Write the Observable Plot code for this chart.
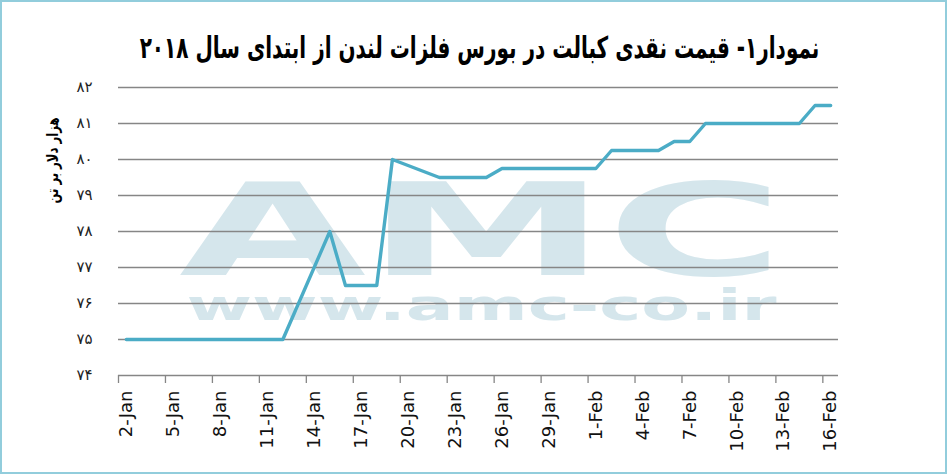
<!DOCTYPE html>
<html>
<head>
<meta charset="utf-8">
<script src="https://cdn.jsdelivr.net/npm/d3@7"></script>
<script src="https://cdn.jsdelivr.net/npm/@observablehq/plot@0.6"></script>
<style>
  body { margin: 0; background: #fff; }
  #chart {
    width: 947px; height: 474px; box-sizing: border-box;
    border: 2px solid #92cddc; background: #fff; overflow: hidden;
  }
  .title {
    height: 62px; box-sizing: border-box; padding: 32px 0 0 12px;
    text-align: center; font: bold 20px "DejaVu Sans", sans-serif; line-height: 28px;
    color: #000; white-space: nowrap;
  }
  .title span { display: inline-block; transform: scaleY(1.5); transform-origin: 50% 55%; }
</style>
</head>
<body>
<div id="chart">
  <div class="title" dir="rtl"><span>نمودار۱- قیمت نقدی کبالت در بورس فلزات لندن از ابتدای سال ۲۰۱۸</span></div>
</div>
<script>
// Cobalt cash price, LME, thousand USD per tonne (trading days)
const dates = [
  "2018-01-02", "2018-01-03", "2018-01-04", "2018-01-05",
  "2018-01-08", "2018-01-09", "2018-01-10", "2018-01-11", "2018-01-12",
  "2018-01-15", "2018-01-16", "2018-01-17", "2018-01-18", "2018-01-19",
  "2018-01-22", "2018-01-23", "2018-01-24", "2018-01-25", "2018-01-26",
  "2018-01-29", "2018-01-30", "2018-01-31", "2018-02-01", "2018-02-02",
  "2018-02-05", "2018-02-06", "2018-02-07", "2018-02-08", "2018-02-09",
  "2018-02-12", "2018-02-13", "2018-02-14", "2018-02-15", "2018-02-16"
];
const prices = [
  75, 75, 75, 75,
  75, 75, 75, 75, 75,
  78, 76.5, 76.5, 76.5, 80,
  79.5, 79.5, 79.5, 79.5, 79.75,
  79.75, 79.75, 79.75, 79.75, 80.25,
  80.25, 80.5, 80.5, 81, 81,
  81, 81, 81, 81.5, 81.5
];

// category axis: one slot per day, tick every 3 days
const tickDays = [
  "2018-01-02", "2018-01-05", "2018-01-08", "2018-01-11", "2018-01-14",
  "2018-01-17", "2018-01-20", "2018-01-23", "2018-01-26", "2018-01-29",
  "2018-02-01", "2018-02-04", "2018-02-07", "2018-02-10", "2018-02-13",
  "2018-02-16"
];
const xStart = "2018-01-02";
const xEnd = "2018-02-17";

const yTicks = [74, 75, 76, 77, 78, 79, 80, 81, 82];
const yTickLabels = ["۷۴", "۷۵", "۷۶", "۷۷", "۷۸", "۷۹", "۸۰", "۸۱", "۸۲"];
const yTitle = "هزار دلار بر تن";

const parse = d3.utcParse("%Y-%m-%d");
const midDay = s => d3.utcHour.offset(parse(s), 12);

const data = dates.map((d, i) => ({date: midDay(d), price: prices[i]}));

const gray = "#868686";
const wmColor = "#d5e6ec";

const plot = Plot.plot({
  width: 943,
  height: 408,
  marginTop: 23,
  marginBottom: 97,
  marginLeft: 116,
  marginRight: 107,
  style: {fontFamily: "DejaVu Sans", background: "white", overflow: "visible"},
  x: {type: "utc", domain: [parse(xStart), parse(xEnd)]},
  y: {domain: [74, 82]},
  marks: [
    // watermark
    Plot.text(["AMC"], {
      frameAnchor: "middle", dx: 3, dy: 3, lineAnchor: "middle",
      fontSize: 128, fontWeight: "bold", fill: wmColor
    }),
    Plot.text(["www.amc-co.ir"], {
      frameAnchor: "middle", dx: 3, dy: 75, lineAnchor: "middle",
      fontSize: 42, fontWeight: "bold", fill: wmColor
    }),
    Plot.gridY(yTicks.slice(1), {stroke: gray, strokeOpacity: 1, strokeWidth: 1.3}),
    Plot.ruleY([74], {stroke: gray, strokeWidth: 1.3}),
    Plot.axisX(tickDays.map(parse), {
      tickSize: 8, stroke: gray, strokeWidth: 1.3, tickFormat: () => "", label: null
    }),
    Plot.axisX(tickDays.map(midDay), {
      tickSize: 0, tickPadding: 15, tickRotate: -90, fontSize: 18, fill: "#111",
      tickFormat: d3.utcFormat("%-d-%b"), label: null
    }),
    Plot.axisY(yTicks, {
      tickSize: 0, tickPadding: 26, fontSize: 15, fill: "#222",
      tickFormat: d => yTickLabels[yTicks.indexOf(d)], label: null
    }),
    Plot.text([yTitle], {
      frameAnchor: "top-left", dx: -72, dy: 73, rotate: -90, textAnchor: "middle",
      fontSize: 16, fontWeight: "bold", fill: "#000"
    }),
    Plot.line(data, {x: "date", y: "price", stroke: "#4bacc6", strokeWidth: 3.4})
  ]
});

// stretch the watermark lettering to its wide shape, squeeze the condensed y title
const fitText = (str, len) => d3.select(plot).selectAll("text")
  .filter(function() { return this.textContent === str; })
  .attr("textLength", len).attr("lengthAdjust", "spacingAndGlyphs");
fitText("AMC", 605);
fitText("www.amc-co.ir", 590);
fitText(yTitle, 86);

document.querySelector("#chart").appendChild(plot);
</script>
</body>
</html>
